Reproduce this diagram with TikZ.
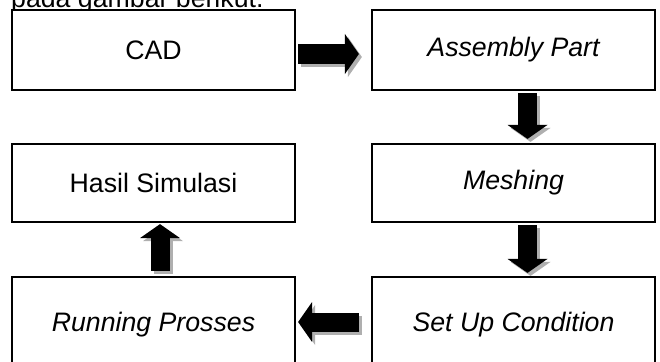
\documentclass[tikz,border=0pt]{standalone}
\usepackage{fontspec}
\setmainfont{Liberation Sans}
\usetikzlibrary{arrows.meta}
\definecolor{shadowgray}{RGB}{175,175,175}
\tikzset{
  box/.style={draw=black, fill=white, line width=2.2pt, inner sep=0pt,
    minimum width=283pt, font=\fontsize{26.7}{32}\selectfont},
  blkarr/.style={draw=black, line width=19pt,
    -{Triangle[line width=0pt, length=14pt, width=40pt]}},
  blkshadow/.style={blkarr, draw=shadowgray, fill=shadowgray,
    transform canvas={shift={(3pt,-3pt)}}}
}
\begin{document}
\begin{tikzpicture}[x=1pt,y=-1pt]
\useasboundingbox (0,0) rectangle (660,361);
\clip (0,0) rectangle (660,361);
\node[anchor=base west, inner sep=0pt, font=\fontsize{26.7}{32}\selectfont] (cap) at (11,7.5) {pada gambar berikut.};
\node[box, minimum height=80pt] (cad) at (153.5,50) {CAD};
\node[box, minimum height=80pt] (asm) at (513.5,50) {\itshape Assembly Part};
\node[box, minimum height=78pt] (hasil) at (153.5,183) {Hasil Simulasi};
\node[box, minimum height=78pt] (mesh) at (513.5,183) {\itshape Meshing};
\node[box, minimum height=96pt] (run) at (153.5,325) {\itshape Running Prosses};
\node[box, minimum height=96pt] (setup) at (513.5,325) {\itshape Set Up Condition};
% right arrow CAD -> Assembly Part
\draw[blkshadow] ([xshift=2pt,yshift=-4pt]cad.east) -- ([xshift=-12pt,yshift=-4pt]asm.west);
\draw[blkarr] ([xshift=2pt,yshift=-4pt]cad.east) -- ([xshift=-12pt,yshift=-4pt]asm.west);
% down arrow Assembly -> Meshing
\draw[blkshadow] ([xshift=14pt,yshift=-2pt]asm.south) -- ([xshift=14pt,yshift=4pt]mesh.north);
\draw[blkarr] ([xshift=14pt,yshift=-2pt]asm.south) -- ([xshift=14pt,yshift=4pt]mesh.north);
% down arrow Meshing -> Set Up
\draw[blkshadow] ([xshift=14pt,yshift=-2pt]mesh.south) -- ([xshift=14pt,yshift=3pt]setup.north);
\draw[blkarr] ([xshift=14pt,yshift=-2pt]mesh.south) -- ([xshift=14pt,yshift=3pt]setup.north);
% left arrow Set Up -> Running
\draw[blkshadow] ([xshift=-12pt,yshift=3pt]setup.west) -- ([xshift=2pt,yshift=3pt]run.east);
\draw[blkarr] ([xshift=-12pt,yshift=3pt]setup.west) -- ([xshift=2pt,yshift=3pt]run.east);
% up arrow Running -> Hasil
\draw[blkshadow] ([xshift=6.5pt,yshift=5pt]run.north) -- ([xshift=6.5pt,yshift=-1pt]hasil.south);
\draw[blkarr] ([xshift=6.5pt,yshift=5pt]run.north) -- ([xshift=6.5pt,yshift=-1pt]hasil.south);
\end{tikzpicture}
\end{document}
